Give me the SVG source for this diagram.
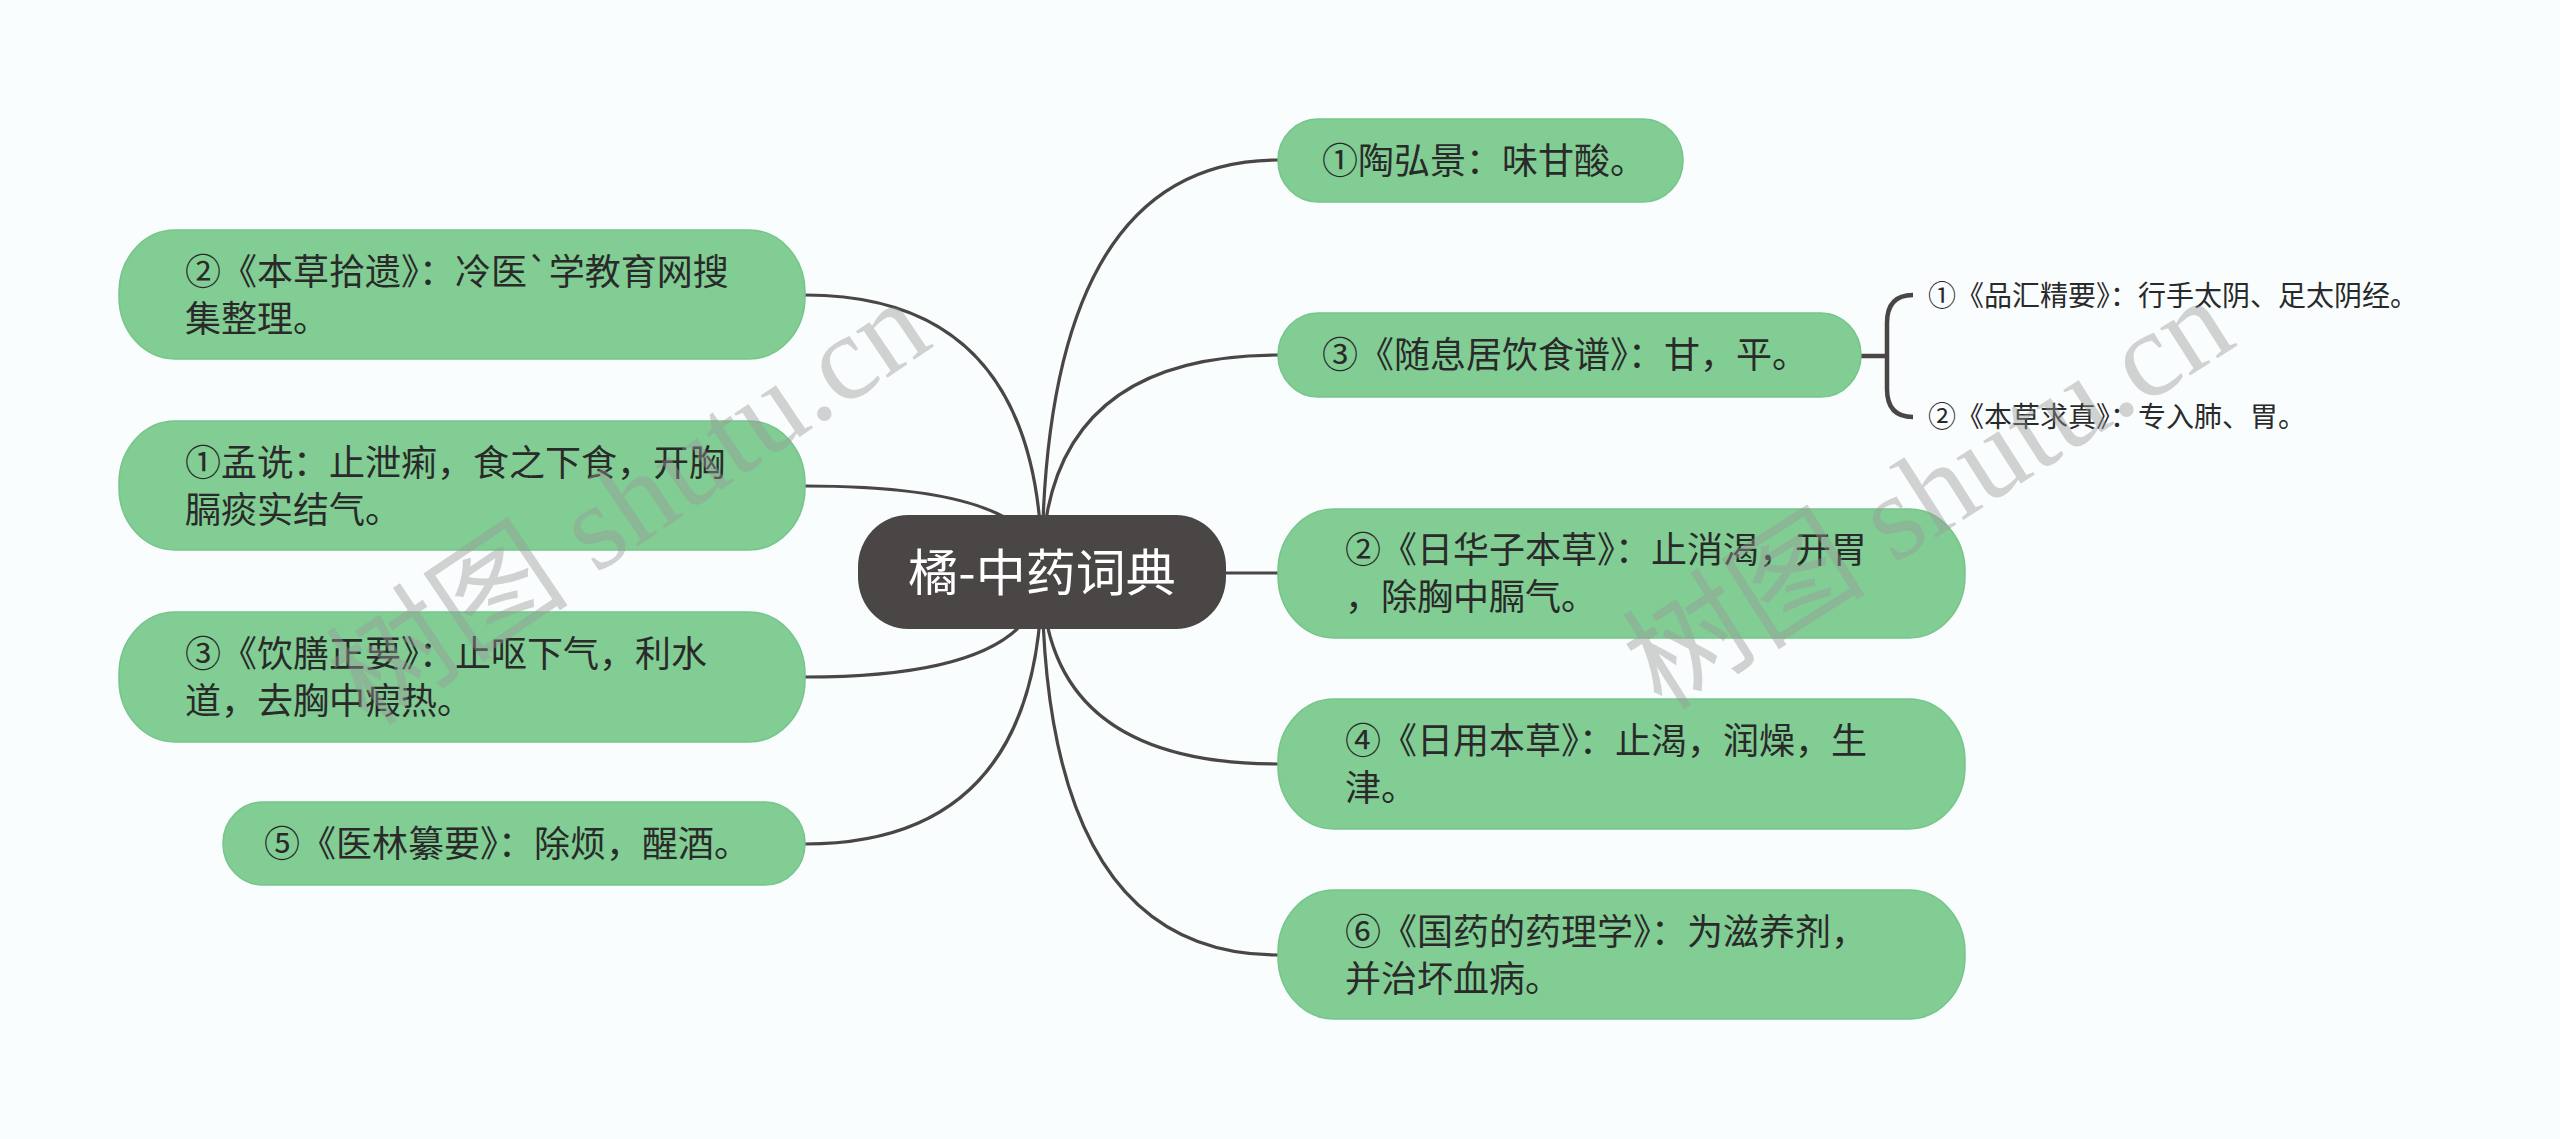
<svg xmlns="http://www.w3.org/2000/svg" width="2560" height="1139" viewBox="0 0 2560 1139">
<style>
.bg{fill:#f9fdfd}
.node{fill:#81cd94;stroke:#76c58a;stroke-width:1.5}
.root{fill:#4b4646}
.t{font-family:"Noto Sans CJK SC","Liberation Sans",sans-serif;font-size:36px;fill:#2a2a2a}
.st{font-family:"Noto Sans CJK SC","Liberation Sans",sans-serif;font-size:28px;fill:#2a2a2a}
.rt{font-family:"Noto Sans CJK SC","Liberation Sans",sans-serif;font-size:50px;fill:#ffffff}
.c{fill:none;stroke:#4b4646;stroke-width:3.2}
.br{fill:none;stroke:#4b4646;stroke-width:4.5}
.wm{font-family:"Liberation Serif","Noto Sans CJK SC",serif;font-size:122px;fill:#999999;opacity:0.42}
</style>
<rect class="bg" x="0" y="0" width="2560" height="1139"/>
<g id="connectors">
<path class="c" d="M1042,572 Q1042,295 805,295"/>
<path class="c" d="M1042,572 Q1042,486 805,486"/>
<path class="c" d="M1042,572 Q1042,677 805,677"/>
<path class="c" d="M1042,572 Q1042,844 805,844"/>
<path class="c" d="M1042,572 Q1042,160 1278,160"/>
<path class="c" d="M1042,572 Q1042,355 1278,355"/>
<path class="c" d="M1042,573 L1278,573"/>
<path class="c" d="M1042,572 Q1042,764 1278,764"/>
<path class="c" d="M1042,572 Q1042,955 1278,955"/>
<path class="br" d="M1861,356 L1887,356"/>
<path class="br" d="M1913,295 Q1887,295 1887,323 L1887,389 Q1887,417 1913,417"/>
</g>
<g id="root">
<rect class="root" x="858" y="515" width="368" height="114" rx="50" ry="52"/>
<text class="rt" x="1042" y="591" text-anchor="middle">橘-中药词典</text>
</g>
<g id="L1">
<rect class="node" x="119" y="230" width="686" height="129" rx="56" ry="62"/>
<text class="t" x="185" y="285">②《本草拾遗》：冷医`学教育网搜</text>
<text class="t" x="185" y="332">集整理。</text>
</g>
<g id="L2">
<rect class="node" x="119" y="421" width="686" height="129" rx="56" ry="62"/>
<text class="t" x="185" y="476">①孟诜：止泄痢，食之下食，开胸</text>
<text class="t" x="185" y="523">膈痰实结气。</text>
</g>
<g id="L3">
<rect class="node" x="119" y="612" width="686" height="130" rx="56" ry="62"/>
<text class="t" x="185" y="667">③《饮膳正要》：止呕下气，利水</text>
<text class="t" x="185" y="714">道，去胸中瘕热。</text>
</g>
<g id="L4">
<rect class="node" x="223" y="802" width="582" height="83" rx="40" ry="41"/>
<text class="t" x="264" y="857">⑤《医林纂要》：除烦，醒酒。</text>
</g>
<g id="R1">
<rect class="node" x="1278" y="119" width="405" height="83" rx="40" ry="41"/>
<text class="t" x="1322" y="174">①陶弘景：味甘酸。</text>
</g>
<g id="R2">
<rect class="node" x="1278" y="313" width="583" height="84" rx="40" ry="42"/>
<text class="t" x="1322" y="368">③《随息居饮食谱》：甘，平。</text>
</g>
<g id="R2a">
<text class="st" x="1928" y="306">①《品汇精要》：行手太阴、足太阴经。</text>
</g>
<g id="R2b">
<text class="st" x="1928" y="427">②《本草求真》：专入肺、胃。</text>
</g>
<g id="R3">
<rect class="node" x="1278" y="509" width="687" height="129" rx="56" ry="62"/>
<text class="t" x="1345" y="563">②《日华子本草》：止消渴，开胃</text>
<text class="t" x="1345" y="610">，除胸中膈气。</text>
</g>
<g id="R4">
<rect class="node" x="1278" y="699" width="687" height="130" rx="56" ry="62"/>
<text class="t" x="1345" y="754">④《日用本草》：止渴，润燥，生</text>
<text class="t" x="1345" y="801">津。</text>
</g>
<g id="R5">
<rect class="node" x="1278" y="890" width="687" height="129" rx="56" ry="62"/>
<text class="t" x="1345" y="945">⑥《国药的药理学》：为滋养剂，</text>
<text class="t" x="1345" y="992">并治坏血病。</text>
</g>
<g id="watermark">
<text class="wm" transform="translate(368,728) rotate(-34)">树图 shutu.cn</text>
<text class="wm" transform="translate(1662,712) rotate(-32.5)">树图 shutu.cn</text>
</g>
</svg>
